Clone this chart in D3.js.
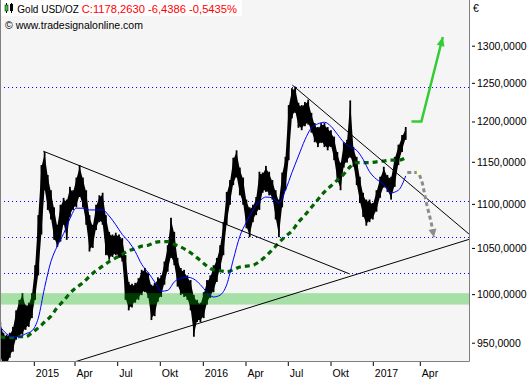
<!DOCTYPE html>
<html>
<head>
<meta charset="utf-8">
<script src="https://cdn.jsdelivr.net/npm/d3@7"></script>
<style>
  body { margin: 0; background: #fff; }
  text { font-family: "Liberation Sans", Arial, sans-serif; }
</style>
</head>
<body>
<div id="chart"></div>
<script>
// weekly bars, one per Monday from 20 Oct 2014 to 6 Mar 2017
var weekStart = new Date(2014, 9, 20), weekEnd = new Date(2017, 2, 7);

var weekHigh = [971, 960, 958, 960, 966, 983, 994, 1001, 989, 991, 1001,
  1031, 1087, 1146, 1162, 1134, 1116, 1096, 1076, 1099, 1107, 1105, 1120, 1116,
  1131, 1146, 1131, 1116, 1087, 1076, 1099, 1110, 1113, 1087, 1068, 1065, 1067,
  1065, 1061, 1042, 1013, 1011, 1012, 1017, 1026, 1028, 1023, 1010, 1012, 1018,
  1020, 1035, 1053, 1084, 1068, 1039, 1028, 1026, 1020, 1015, 999, 994, 991,
  1002, 1015, 1020, 1031, 1039, 1053, 1079, 1114, 1128, 1155, 1164, 1143, 1131,
  1105, 1096, 1099, 1108, 1138, 1137, 1145, 1138, 1128, 1116, 1105, 1137, 1156,
  1221, 1243, 1245, 1224, 1221, 1225, 1228, 1211, 1198, 1193, 1198, 1198, 1193,
  1189, 1181, 1162, 1149, 1174, 1177, 1227, 1168, 1156, 1132, 1113, 1105, 1105,
  1101, 1116, 1132, 1144, 1134, 1132, 1156, 1171, 1183, 1193];

var weekLow = [935, 925, 925, 935, 941, 953, 955, 958, 963, 966, 975,
  994, 1020, 1065, 1116, 1093, 1082, 1059, 1051, 1057, 1076, 1059, 1085, 1093,
  1096, 1108, 1096, 1076, 1046, 1050, 1070, 1079, 1076, 1042, 1037, 1040, 1042,
  1039, 1035, 994, 983, 986, 991, 994, 999, 1002, 996, 973, 977, 992,
  997, 1010, 1024, 1039, 1031, 1008, 999, 997, 994, 983, 956, 971, 971,
  975, 989, 996, 1002, 1013, 1026, 1042, 1076, 1099, 1122, 1131, 1110, 1099,
  1072, 1062, 1079, 1087, 1093, 1113, 1114, 1110, 1105, 1082, 1062, 1096, 1116,
  1152, 1204, 1211, 1192, 1189, 1194, 1196, 1186, 1174, 1168, 1173, 1168, 1164,
  1168, 1152, 1126, 1116, 1143, 1149, 1155, 1144, 1122, 1101, 1085, 1075, 1079,
  1082, 1091, 1107, 1119, 1114, 1105, 1120, 1146, 1162, 1177];

// moving averages read every second week
var maFast = [966, 959, 956, 956, 959, 962, 975, 1007, 1035, 1052,
  1066, 1083, 1095, 1095, 1093, 1093, 1093, 1086, 1076, 1065,
  1057, 1046, 1032, 1023, 1013, 1003, 1004, 1013, 1017, 1018,
  1016, 1010, 1002, 997, 999, 1010, 1037, 1063, 1079, 1093,
  1103, 1108, 1107, 1101, 1116, 1137, 1157, 1177, 1192, 1197,
  1199, 1194, 1184, 1174, 1168, 1164, 1153, 1138, 1129, 1123,
  1113, 1116, 1133];

var maSlow = [956, 955, 955, 956, 956, 960, 965, 971, 977, 986,
  993, 1001, 1007, 1012, 1019, 1025, 1030, 1035, 1039, 1043,
  1047, 1049, 1052, 1053, 1056, 1057, 1057, 1054, 1051, 1047,
  1042, 1036, 1030, 1026, 1025, 1024, 1026, 1029, 1030, 1031,
  1035, 1041, 1048, 1056, 1063, 1069, 1079, 1087, 1096, 1105,
  1114, 1121, 1128, 1135, 1144, 1149, 1149, 1149, 1150, 1151,
  1152, 1152, 1155];

var tickDates = ["2015-01-01", "2015-04-01", "2015-07-01", "2015-10-01", "2016-01-01",
  "2016-04-01", "2016-07-01", "2016-10-01", "2017-01-01", "2017-04-01"];
var tickLabels = ["2015", "Apr", "Jul", "Okt", "2016", "Apr", "Jul", "Okt", "2017", "Apr"];
var yTicks = [950, 1000, 1050, 1100, 1150, 1200, 1250, 1300];

var levels = [1244, 1103, 1062, 1023];
var zone = [989, 1001];

var trendLines = [
  [["2015-01-23", 1163], ["2016-11-13", 1021.5]],
  [["2015-04-03", 931], ["2017-07-05", 1059.5]],
  [["2016-07-12", 1247], ["2017-07-05", 1065.6]]
];
var upArrow = [["2017-03-17", 1200], ["2017-04-05", 1200], ["2017-05-16", 1312]];
var downArrow = [["2017-03-09", 1137], ["2017-03-31", 1137], ["2017-04-07", 1124],
  ["2017-04-15", 1100], ["2017-04-24", 1078], ["2017-04-29", 1062]];

var width = 530, height = 380;
var plotW = 469, plotH = 361;
var parse = d3.timeParse("%Y-%m-%d");

var svg = d3.select("#chart").append("svg")
  .attr("width", width)
  .attr("height", height);

svg.append("rect").attr("width", width).attr("height", height).attr("fill", "#fff");
svg.append("rect").attr("width", plotW).attr("height", plotH).attr("fill", "#f5f5f5");

svg.append("clipPath").attr("id", "clip")
  .append("rect").attr("width", plotW).attr("height", plotH);

// the time axis of the chart is stretched by segments, one per tick
var x = d3.scaleTime()
  .domain(tickDates.map(parse))
  .range([33.3, 74, 116.7, 159.3, 202.3, 245, 287.3, 330, 372.3, 419.3]);

var y = d3.scaleLog()
  .domain([950, 1300])
  .range([342.7, 45.7]);

var g = svg.append("g").attr("clip-path", "url(#clip)");

// dotted levels
g.selectAll(".level")
  .data(levels)
  .enter().append("line")
    .attr("x1", 0).attr("x2", plotW)
    .attr("y1", function(d) { return Math.round(y(d)) + 0.5; })
    .attr("y2", function(d) { return Math.round(y(d)) + 0.5; })
    .attr("stroke", "#0000ff")
    .attr("stroke-dasharray", "1,3");

// price: a band between the weekly lows and highs, plus a thin bar per week
var weeks = d3.timeMonday.range(weekStart, weekEnd);
var band = d3.area()
  .x(function(d) { return x(d); })
  .y0(function(d, i) { return y(weekLow[i]) - 2; })
  .y1(function(d, i) { return y(weekHigh[i]) + 2; });
g.append("path")
  .attr("d", band(weeks))
  .attr("fill", "#000");

g.selectAll(".bar")
  .data(weeks)
  .enter().append("rect")
    .attr("x", function(d) { return x(d) - 0.9; })
    .attr("width", 1.8)
    .attr("y", function(d, i) { return y(weekHigh[i]); })
    .attr("height", function(d, i) { return y(weekLow[i]) - y(weekHigh[i]); })
    .attr("fill", "#000");

// support zone, drawn over the bars
g.append("rect")
  .attr("x", 0).attr("width", plotW)
  .attr("y", y(zone[1]))
  .attr("height", y(zone[0]) - y(zone[1]))
  .attr("fill", "rgb(0,180,0)")
  .attr("opacity", 0.32);

var maDates = weeks.filter(function(d, i) { return i % 2 === 0; });
var maLine = d3.line()
  .x(function(d, i) { return x(maDates[i]); })
  .y(function(d) { return y(d); })
  .curve(d3.curveMonotoneX);

g.append("path")
  .attr("d", maLine(maSlow))
  .attr("fill", "none")
  .attr("stroke", "#006400")
  .attr("stroke-width", 3.2)
  .attr("stroke-dasharray", "5,4");

g.append("path")
  .attr("d", maLine(maFast))
  .attr("fill", "none")
  .attr("stroke", "#0000ff")
  .attr("stroke-width", 1);

// trend lines
g.selectAll(".trend")
  .data(trendLines)
  .enter().append("line")
    .attr("x1", function(d) { return x(parse(d[0][0])); })
    .attr("y1", function(d) { return y(d[0][1]); })
    .attr("x2", function(d) { return x(parse(d[1][0])); })
    .attr("y2", function(d) { return y(d[1][1]); })
    .attr("stroke", "#000")
    .attr("stroke-width", 1);

var pathLine = d3.line()
  .x(function(d) { return x(parse(d[0])); })
  .y(function(d) { return y(d[1]); });

function arrowHead(pts, len, half, color) {
  var a = pts[pts.length - 2], b = pts[pts.length - 1];
  var x1 = x(parse(a[0])), y1 = y(a[1]), x2 = x(parse(b[0])), y2 = y(b[1]);
  var dx = x2 - x1, dy = y2 - y1, l = Math.sqrt(dx * dx + dy * dy);
  var ux = dx / l, uy = dy / l;
  var bx = x2 - ux * len, by = y2 - uy * len;
  g.append("path")
    .attr("d", "M" + x2 + "," + y2 + "L" + (bx - uy * half) + "," + (by + ux * half) +
      "L" + (bx + uy * half) + "," + (by - ux * half) + "Z")
    .attr("fill", color);
}

// projected scenarios
g.append("path")
  .attr("d", pathLine(upArrow))
  .attr("fill", "none")
  .attr("stroke", "#33cc33")
  .attr("stroke-width", 2.5);
arrowHead(upArrow, 9, 4, "#33cc33");

g.append("path")
  .attr("d", pathLine(downArrow))
  .attr("fill", "none")
  .attr("stroke", "#8c8c8c")
  .attr("stroke-width", 3)
  .attr("stroke-dasharray", "4,3");
arrowHead(downArrow, 8, 4, "#8c8c8c");
g.append("rect")
  .attr("x", x(parse(downArrow[1][0])) - 2)
  .attr("y", y(downArrow[1][1]) - 2)
  .attr("width", 4).attr("height", 4)
  .attr("fill", "#ffffcc");

// frame
svg.append("path")
  .attr("d", "M0.5,0V" + (plotH + 0.5) + "H" + (plotW + 0.5) + "V0")
  .attr("fill", "none")
  .attr("stroke", "#808080");

// right axis
var yAxis = svg.append("g")
  .attr("transform", "translate(472,0)")
  .call(d3.axisRight(y).tickValues(yTicks).tickSize(3).tickPadding(2)
    .tickFormat(function(d) { return d.toFixed(4).replace(".", ","); }));
yAxis.select(".domain").remove();
yAxis.selectAll("text").attr("font-size", "10.5px").attr("font-family", "Liberation Sans, Arial, sans-serif");

svg.append("text")
  .attr("x", 473).attr("y", 12)
  .attr("font-size", "10.5px")
  .text("€");

// bottom axis
var xAxis = svg.append("g")
  .attr("transform", "translate(0," + (plotH + 1) + ")")
  .call(d3.axisBottom(x).tickValues(tickDates.map(parse)).tickSize(4)
    .tickFormat(function(d, i) { return tickLabels[i]; }));
xAxis.select(".domain").remove();
xAxis.selectAll(".tick line").attr("transform", "translate(0.5,0)");
xAxis.selectAll("text")
  .attr("x", 2).attr("y", 14.5).attr("dy", "0")
  .attr("text-anchor", "start")
  .attr("font-size", "10.5px")
  .attr("font-family", "Liberation Sans, Arial, sans-serif");

// header
svg.append("rect").attr("x", 1).attr("y", 0).attr("width", 241).attr("height", 16).attr("fill", "#fff");
svg.append("line").attr("x1", 6.5).attr("x2", 6.5).attr("y1", 3).attr("y2", 13).attr("stroke", "#000");
svg.append("rect").attr("x", 5).attr("y", 5).attr("width", 3).attr("height", 6).attr("fill", "#33cc33").attr("stroke", "#000").attr("stroke-width", 0.5);
svg.append("line").attr("x1", 11.5).attr("x2", 11.5).attr("y1", 3).attr("y2", 13).attr("stroke", "#000");
svg.append("rect").attr("x", 10).attr("y", 4).attr("width", 3).attr("height", 7).attr("fill", "#000");

svg.append("text")
  .attr("x", 17.3).attr("y", 12.7)
  .attr("font-size", "10px")
  .text("Gold USD/OZ");
svg.append("text")
  .attr("x", 81.7).attr("y", 12.7)
  .attr("font-size", "11.2px")
  .attr("fill", "#ff0000")
  .text("C:1178,2630 -6,4386 -0,5435%");
svg.append("text")
  .attr("x", 5).attr("y", 29.3)
  .attr("font-size", "10.5px")
  .text("© www.tradesignalonline.com");
</script>
</body>
</html>
